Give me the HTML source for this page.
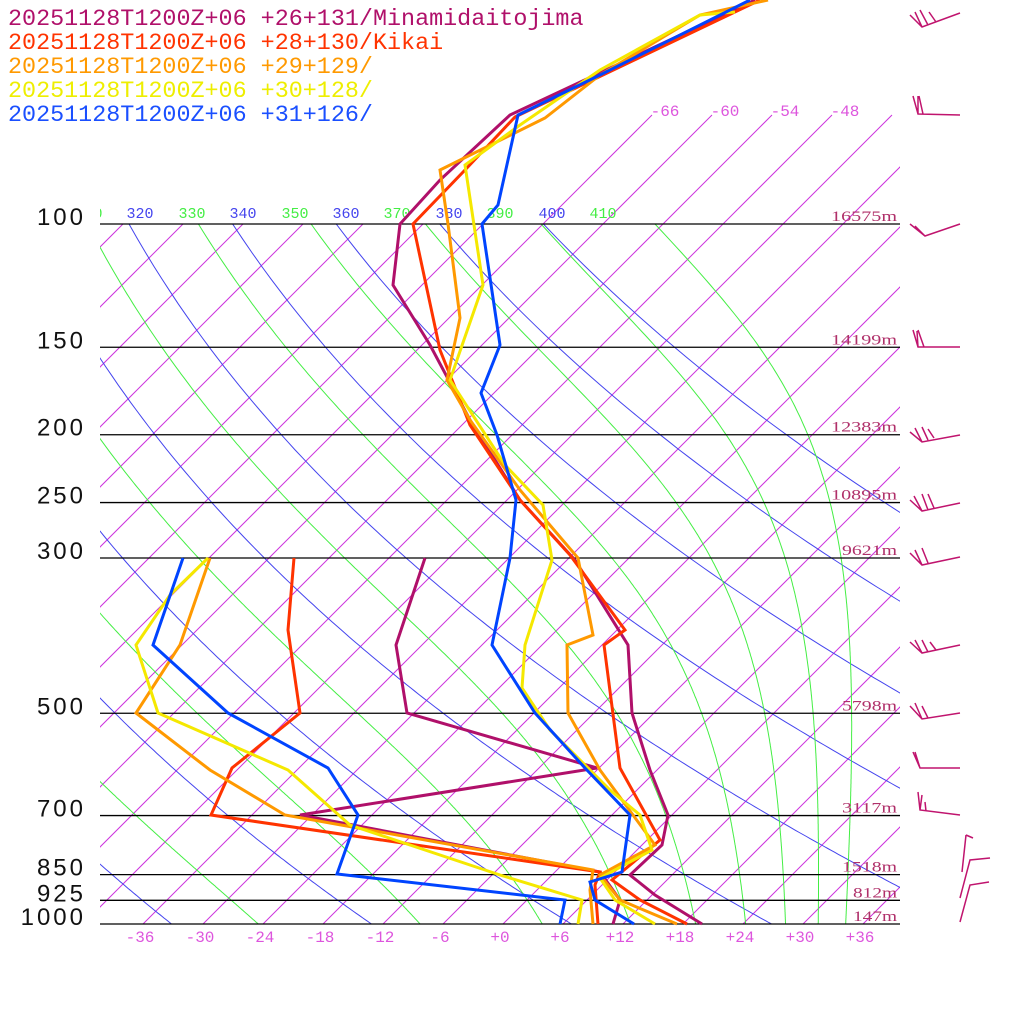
<!DOCTYPE html>
<html><head><meta charset="utf-8"><style>
html,body{margin:0;padding:0;background:#fff;}
svg{display:block;}
text{font-family:"Liberation Mono",monospace;}
</style></head><body>
<svg id="s" width="1024" height="1024" viewBox="0 0 1024 1024" xmlns="http://www.w3.org/2000/svg">
<defs>
<clipPath id="cA"><rect x="100" y="224" width="800" height="700"/></clipPath>
<clipPath id="cI"><rect x="100" y="114" width="800" height="810"/></clipPath>
<clipPath id="cL"><rect x="100" y="190" width="800" height="40"/></clipPath>
</defs>
<g id="iso" clip-path="url(#cI)" stroke="#cc33dd" stroke-width="1" fill="none"></g>
<g id="adi" clip-path="url(#cA)" fill="none" stroke-width="1"></g>
<g id="plines" stroke="#000" stroke-width="1.3"></g>
<g id="lbl"></g>
<g id="data" fill="none" stroke-width="3" stroke-linejoin="miter"></g>
<g id="barbs" stroke="#c0146e" stroke-width="1.5" fill="none"></g>
<g font-size="23.4">
<text x="8" y="25" fill="#b0106a">20251128T1200Z+06 +26+131/Minamidaitojima</text>
<text x="8" y="49" fill="#ff3300">20251128T1200Z+06 +28+130/Kikai</text>
<text x="8" y="73" fill="#ff9900">20251128T1200Z+06 +29+129/</text>
<text x="8" y="97" fill="#eeee00">20251128T1200Z+06 +30+128/</text>
<text x="8" y="121" fill="#1a4fff">20251128T1200Z+06 +31+126/</text>
</g>
</svg>
<script>
var NS="http://www.w3.org/2000/svg";
function el(p,t,a,txt){var e=document.createElementNS(NS,t);for(var k in a)e.setAttribute(k,a[k]);if(txt!==undefined)e.textContent=txt;document.getElementById(p).appendChild(e);return e;}
function Y(p){return 224+700*Math.log10(p/100);}
function X(T,p){return 503+10*T+(924-Y(p));}
for(var T=-120;T<=48;T+=6){
  var x1=X(T,1000);
  var ytop=(T>=-66)?115:224;
  el("iso","line",{x1:x1,y1:924,x2:x1+(924-ytop),y2:ytop});
}
[[-66,665],[-60,725],[-54,785],[-48,845]].forEach(function(a){el("lbl","text",{x:a[1],y:116,"font-size":16,fill:"#dd55dd","text-anchor":"middle"},String(a[0]));});
for(var th=200;th<=400;th+=20){
  var pts=[];for(var p=1050;p>=95;p-=5){var t=th*Math.pow(p/1000,0.2857)-273.15;pts.push(X(t,p).toFixed(1)+","+Y(p).toFixed(1));}
  el("adi","polyline",{points:pts.join(" "),stroke:"#4444ee"});
}
function es(tc){return 6.112*Math.exp(17.67*tc/(tc+243.5));}
function rs(tc,p){var e=es(tc);return 0.622*e/(p-e);}
function thetae(tk,p){return tk*Math.pow(1000/p,0.2857)*Math.exp(2.5e6*rs(tk-273.15,p)/(1004*tk));}
for(var te=190;te<=410;te+=20){
  var lo=150,hi=320;for(var i=0;i<60;i++){var m=(lo+hi)/2;if(thetae(m,1000)>te)hi=m;else lo=m;}
  var tk=(lo+hi)/2,pts=[];
  for(var p=1000;p>=95;p-=2){
    pts.push(X(tk-273.15,p).toFixed(1)+","+Y(p).toFixed(1));
    var r=rs(tk-273.15,p),L=2.5e6,Rd=287,cp=1004;
    var dTdp=(Rd*tk+L*r)/(p*(cp+L*L*r*0.622/(Rd*tk*tk)));
    tk-=dTdp*2;
  }
  el("adi","polyline",{points:pts.join(" "),stroke:"#44ee44"});
}
var labs=[[310,89,"#44ee44"],[320,140,"#4444ee"],[330,192,"#44ee44"],[340,243,"#4444ee"],[350,295,"#44ee44"],[360,346,"#4444ee"],[370,397,"#44ee44"],[380,449,"#4444ee"],[390,500,"#44ee44"],[400,552,"#4444ee"],[410,603,"#44ee44"]];
labs.forEach(function(a){el("lbl","text",{x:a[1],y:218,"font-size":15,fill:a[2],"text-anchor":"middle","clip-path":"url(#cL)"},String(a[0]));});
var P=[[100,"100","16575m"],[150,"150","14199m"],[200,"200","12383m"],[250,"250","10895m"],[300,"300","9621m"],[500,"500","5798m"],[700,"700","3117m"],[850,"850","1518m"],[925,"925","812m"],[1000,"1000","147m"]];
P.forEach(function(a){var y=Y(a[0]);el("plines","line",{x1:100,y1:y,x2:900,y2:y});
 el("lbl","text",{x:86,y:y+1,"font-size":24,fill:"#111","text-anchor":"end","letter-spacing":"3",style:'font-family:"Liberation Sans",sans-serif'},a[1]);
 el("lbl","text",{x:897,y:y-3,"font-size":15,fill:"#b0306a","text-anchor":"end",textLength:String(a[2].length*11),lengthAdjust:"spacingAndGlyphs",style:'font-family:"Liberation Serif",serif'},a[2]);});
for(var t=-36;t<=36;t+=6){el("lbl","text",{x:X(t,1000)-3,y:942,"font-size":16,fill:"#dd55dd","text-anchor":"middle"},(t>=0?"+":"")+t);}
var S=[
["#b0106a","755,0 510,115 440,180 400,224 393,285 430,345 470,420 520,500 575,560 628,645 632,713 650,770 668,815 662,845 630,875 655,895 702,924"],
["#b0106a","425,558 396,645 407,713 597,768 300,815 600,872 620,900 613,924"],
["#ff3300","760,0 515,117 465,170 413,224 440,350 470,425 520,500 570,555 625,630 604,645 620,768 660,840 612,880 640,900 687,924"],
["#ff3300","294,558 288,630 300,713 232,768 211,815 600,872 595,885 598,924"],
["#ff9900","768,0 700,15 600,75 545,118 440,170 448,224 460,318 447,380 470,420 520,490 578,558 593,635 567,645 568,713 600,770 655,845 600,875 620,900 677,924"],
["#ff9900","210,558 180,645 136,713 210,770 285,815 593,870 590,890 593,924"],
["#f5e800","735,12 700,15 600,70 520,125 465,165 483,285 450,380 505,465 543,505 552,560 525,645 522,688 550,730 610,790 640,815 652,850 600,878 615,900 655,924"],
["#f5e800","208,558 170,595 136,645 158,713 288,770 350,825 500,875 582,900 578,924"],
["#0044ff","750,0 600,75 518,115 498,205 482,224 500,345 481,393 497,435 516,500 510,558 492,645 535,713 585,768 630,815 622,872 590,882 595,900 634,924"],
["#0044ff","183,558 153,645 228,713 328,768 358,815 337,874 565,900 560,924"]
];
S.forEach(function(s){el("data","polyline",{points:s[1],stroke:s[0]});});
var B=[
"960,13 922,27 910,15 M922,27 915,12 M928,25 920,10 M936,22 929,12",
"960,115 918,114 913,96 M918,114 918,96 M923,114 919,96",
"960,224 925,236 910,224 M925,236 915,226",
"960,347 918,347 913,330 M918,347 917,331 M924,347 918,330",
"960,435 922,442 910,432 M922,442 915,428 M928,440 922,427 M934,438 928,429",
"960,503 922,511 910,500 M922,511 914,496 M928,510 922,494 M934,508 928,494",
"960,557 922,565 910,553 M922,565 915,550 M928,563 922,548",
"960,645 922,653 910,642 M922,653 915,640 M928,652 922,640 M936,650 930,642",
"960,713 922,719 910,706 M922,719 915,703 M928,718 922,706",
"960,768 920,768 913,752 M920,768 915,752",
"960,815 920,810 918,792 M920,810 922,795 M926,811 925,802",
"962,872 966,835 M966,835 973,838",
"960,898 970,860 990,858",
"960,922 970,885 989,882"
];
B.forEach(function(d){el("barbs","path",{d:"M"+d});});
</script>
</body></html>
